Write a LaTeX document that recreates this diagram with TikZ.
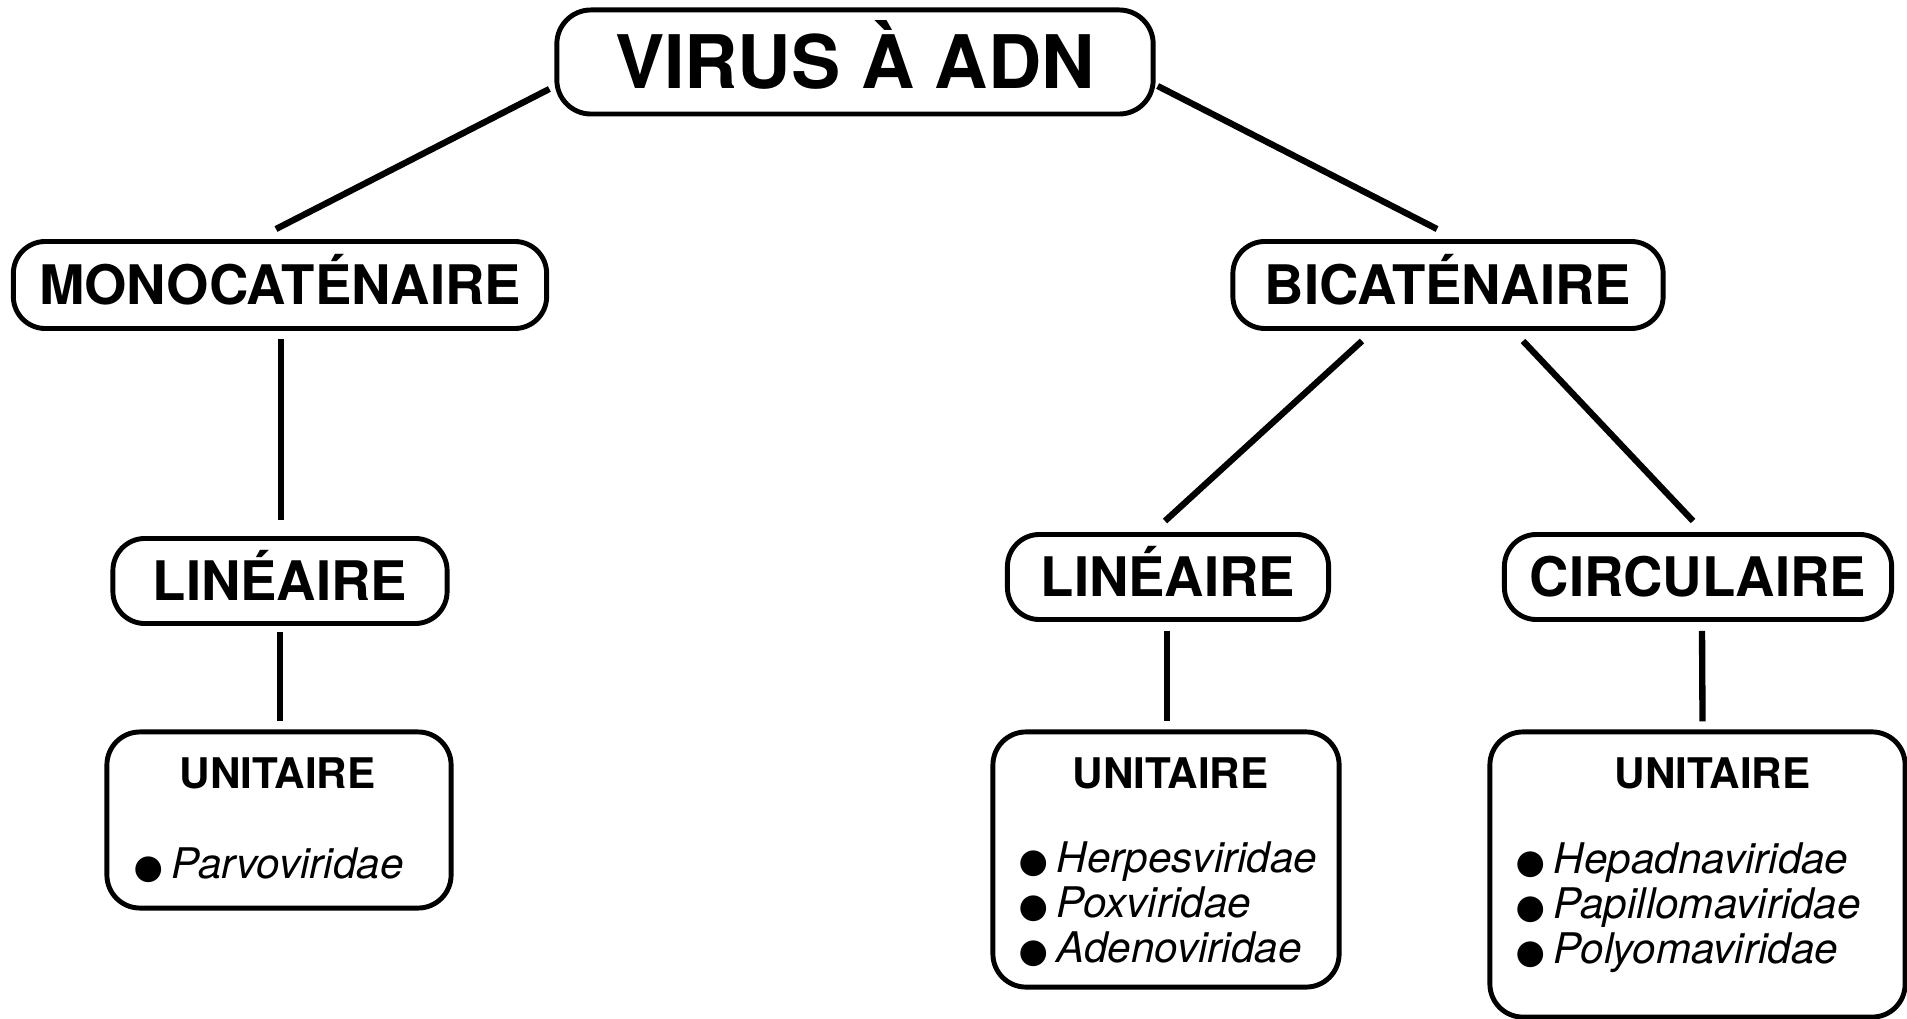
\documentclass[tikz,border=0pt]{standalone}
\usepackage{fontspec}
\setmainfont{TeX Gyre Heros}
\newfontfamily\symb{DejaVu Sans}
\usetikzlibrary{calc}

\newcommand{\puce}{{\symb\fontsize{9.6}{9.6}\selectfont ●}}

\tikzset{
  bulle/.style={draw, line width=1.4pt, rounded corners=0.32cm, inner sep=0pt,
    text height=11.1pt, text depth=0pt, font=\bfseries\fontsize{15.5}{18}\selectfont},
  cadre/.style={draw, line width=1.4pt, rounded corners=0.33cm, inner sep=0pt},
  lien/.style={line width=1.8pt},
  titre/.style={anchor=base, inner sep=0pt, font=\bfseries\fontsize{12}{14}\selectfont},
  famille/.style={anchor=base west, inner sep=0pt, font=\itshape\fontsize{12}{14}\selectfont},
}

\begin{document}
\begin{tikzpicture}[x=0.01cm, y=-0.01cm]
  \useasboundingbox (0,0) rectangle (1907,1019);

  % niveaux
  \node[bulle, minimum width=5.96cm, minimum height=1.04cm, rounded corners=0.34cm,
    text height=15.1pt, font=\bfseries\fontsize{21}{25}\selectfont] (adn) at (855,62) {VIRUS À ADN};
  \node[bulle, minimum width=5.33cm, minimum height=0.87cm] (mono) at (280,285) {MONOCATÉNAIRE};
  \node[bulle, minimum width=4.30cm, minimum height=0.87cm] (bi) at (1448,285) {BICATÉNAIRE};
  \node[bulle, minimum width=3.34cm, minimum height=0.85cm] (linM) at (280,581) {LINÉAIRE};
  \node[bulle, minimum width=3.21cm, minimum height=0.85cm] (linB) at (1168,577) {LINÉAIRE};
  \node[bulle, minimum width=3.87cm, minimum height=0.85cm] (circ) at (1698,577) {CIRCULAIRE};

  % familles
  \node[cadre, minimum width=3.44cm, minimum height=1.76cm] (uniM) at (279,820) {};
  \node[cadre, minimum width=3.46cm, minimum height=2.55cm] (uniB) at (1166,859.5) {};
  \node[cadre, minimum width=4.15cm, minimum height=2.85cm] (uniC) at (1697.5,874.5) {};

  \node[titre] (tM) at (277.5,788) {UNITAIRE};
  \node[titre] (tB) at (1170.5,788) {UNITAIRE};
  \node[titre] (tC) at (1712.5,788) {UNITAIRE};

  \node[famille] (fM1) at (133,878) {\puce\hspace{2.5pt}Parvoviridae};
  \foreach \nom [count=\i] in {Herpesviridae, Poxviridae, Adenoviridae}
    \node[famille] (fB\i) at (1018,{827+45*\i}) {\puce\hspace{2.5pt}\nom};
  \foreach \nom [count=\i] in {Hepadnaviridae, Papillomaviridae, Polyomaviridae}
    \node[famille] (fC\i) at (1515,{828+45*\i}) {\puce\hspace{2.5pt}\nom};

  % liens
  \draw[lien] ($(adn.west)+(-5,27)$) -- ($(mono.north)+(-4,-10)$);
  \draw[lien] ($(adn.east)+(2,24)$) -- ($(bi.north)+(-11,-10)$);
  \draw[lien] ($(mono.south)+(1,8)$) -- ($(linM.north)+(1,-16)$);
  \draw[lien] ($(bi.south)+(-86,10)$) -- ($(linB.north)+(-3,-11)$);
  \draw[lien] ($(bi.south)+(75,10)$) -- ($(circ.north)+(-5,-11)$);
  \draw[lien] ($(linM.south)+(0,6)$) -- ($(uniM.north)+(1,-8)$);
  \draw[lien] ($(linB.south)+(-1,9)$) -- ($(uniB.north)+(1,-8)$);
  \draw[lien] ($(circ.south)+(4,9)$) -- ($(uniC.north)+(5,-8)$);
\end{tikzpicture}
\end{document}
